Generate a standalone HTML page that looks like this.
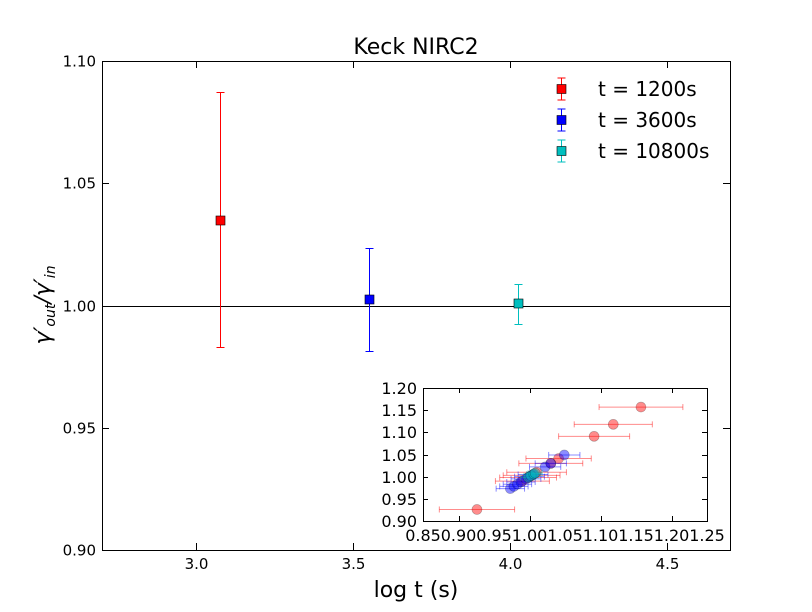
<!DOCTYPE html>
<html><head><meta charset="utf-8"><style>
body{margin:0;background:#fff;}
svg{display:block;font-family:"DejaVu Sans","Liberation Sans",sans-serif;}
</style></head><body>
<svg id="chart" width="812" height="612" viewBox="0 0 812 612">
<rect x="0" y="0" width="812" height="612" fill="#fff"/>
<text x="416" y="54" font-size="22" text-anchor="middle">Keck NIRC2</text>
<text x="416" y="597" font-size="22" text-anchor="middle">log t (s)</text>
<text transform="translate(50,305) rotate(-90)" font-size="22" text-anchor="middle" font-style="italic">γ′<tspan font-size="14" dy="5">out</tspan><tspan dy="-5">/γ′</tspan><tspan font-size="14" dy="5">in</tspan></text>
<g id="main"></g>
<g id="inset"></g>
<g id="legend"></g>
</svg>
<script>
const mainLabels = ["t = 1200s", "t = 3600s", "t = 10800s"];
const mainX = [3.076, 3.551, 4.025];
const mainY = [1.035, 1.0026, 1.0009];
const mainErrHi = [0.0523, 0.0209, 0.0078];
const mainErrLo = [0.052, 0.0212, 0.0084];
const mainColors = ["#ff0000", "#0000ff", "#00bfbf"];
const mainXTicks = [3.0, 3.5, 4.0, 4.5];
const mainYTicks = [0.90, 0.95, 1.00, 1.05, 1.10];

const insetRedX = [0.926, 1.157, 1.118, 1.091, 1.041, 1.030, 1.010, 1.003, 0.998, 0.990];
const insetRedErr = [0.053, 0.059, 0.055, 0.050, 0.046, 0.045, 0.042, 0.040, 0.040, 0.038];
const insetBlueX = [0.973, 0.978, 0.983, 0.988, 0.995, 1.000, 1.005, 1.022, 1.030, 1.049];
const insetBlueErr = [0.020, 0.020, 0.020, 0.020, 0.021, 0.021, 0.021, 0.022, 0.022, 0.022];
const insetCyanX = [0.998, 1.002, 1.006, 1.008];
const insetCyanErr = [0.010, 0.010, 0.010, 0.010];
const insetXTicks = [0.85, 0.90, 0.95, 1.00, 1.05, 1.10, 1.15, 1.20, 1.25];
const insetYTicks = [0.90, 0.95, 1.00, 1.05, 1.10, 1.15, 1.20];

const NS = "http://www.w3.org/2000/svg";
function mk(parent, tag, attrs, text) {
  const e = document.createElementNS(NS, tag);
  for (const k in attrs) e.setAttribute(k, attrs[k]);
  if (text !== undefined) e.textContent = text;
  parent.appendChild(e);
  return e;
}
const snap = v => Math.round(v) + 0.5;
const mx = v => 102 + (v - 2.7) / 2.0 * 628;
const my = v => 550 - (v - 0.90) / 0.20 * 489;
const main = document.getElementById('main');
mk(main, 'line', {x1: 102, x2: 730, y1: snap(my(1)), y2: snap(my(1)), stroke: '#000', 'stroke-width': 1});
mainXTicks.forEach(t => {
  const x = snap(mx(t));
  mk(main, 'line', {x1: x, x2: x, y1: 550, y2: 543, stroke: '#000'});
  mk(main, 'line', {x1: x, x2: x, y1: 61, y2: 68, stroke: '#000'});
  const lb = mk(main, 'text', {x: x, y: 569, 'font-size': 15, 'text-anchor': 'middle'}, t.toFixed(1));
  
  
});
mainYTicks.forEach(t => {
  const y = snap(my(t));
  mk(main, 'line', {x1: 102, x2: 109, y1: y, y2: y, stroke: '#000'});
  mk(main, 'line', {x1: 730, x2: 723, y1: y, y2: y, stroke: '#000'});
  const lb = mk(main, 'text', {x: 96, y: y + 5, 'font-size': 15, 'text-anchor': 'end'}, t.toFixed(2));
  
  
});
mainX.forEach((v, i) => {
  const x = snap(mx(v)), y = my(mainY[i]), yt = snap(my(mainY[i] + mainErrHi[i])), yb = snap(my(mainY[i] - mainErrLo[i]));
  const g = mk(main, 'g', {});
  
  
  const c = mainColors[i];
  mk(g, 'line', {x1: x, x2: x, y1: yt, y2: yb, stroke: c});
  mk(g, 'line', {x1: x - 4, x2: x + 4, y1: yt, y2: yt, stroke: c});
  mk(g, 'line', {x1: x - 4, x2: x + 4, y1: yb, y2: yb, stroke: c});
  mk(g, 'rect', {x: x - 4.5, y: Math.round(y) - 4, width: 9, height: 9, fill: c, stroke: '#000', 'stroke-width': 0.6});
});
mk(main, 'rect', {x: 102.5, y: 61.5, width: 628, height: 489, fill: 'none', stroke: '#000', 'stroke-width': 1});

const leg = document.getElementById('legend');
mainLabels.forEach((l, i) => {
  const y = 89 + i * 31, x = 561.5, c = mainColors[i];
  const g = mk(leg, 'g', {});
  
  
  mk(g, 'line', {x1: x, x2: x, y1: y - 11, y2: y + 11, stroke: c});
  mk(g, 'line', {x1: x - 4, x2: x + 4, y1: y - 11, y2: y - 11, stroke: c});
  mk(g, 'line', {x1: x - 4, x2: x + 4, y1: y + 11, y2: y + 11, stroke: c});
  mk(g, 'rect', {x: x - 4.5, y: y - 4.5, width: 9, height: 9, fill: c, stroke: '#000', 'stroke-width': 0.6});
  mk(g, 'text', {x: 598, y: y + 7, 'font-size': 20}, l);
});

const ix = v => 423 + (v - 0.85) / 0.40 * 284;
const iy = v => 521 - (v - 0.90) / 0.30 * 133;
const inset = document.getElementById('inset');
mk(inset, 'rect', {x: 423, y: 388, width: 284, height: 133, fill: '#fff'});
insetXTicks.forEach((t, i) => {
  const x = ix(t);
  if (i % 2 === 1) {
    mk(inset, 'line', {x1: snap(x), x2: snap(x), y1: 521, y2: 516, stroke: '#000'});
    mk(inset, 'line', {x1: snap(x), x2: snap(x), y1: 388, y2: 393, stroke: '#000'});
  }
  const lb = mk(inset, 'text', {x: x, y: 541, 'font-size': 16, 'text-anchor': 'middle'}, t.toFixed(2));
  
  
});
insetYTicks.forEach(t => {
  const y = snap(iy(t));
  mk(inset, 'line', {x1: 423, x2: 428, y1: y, y2: y, stroke: '#000'});
  mk(inset, 'line', {x1: 707, x2: 702, y1: y, y2: y, stroke: '#000'});
  const lb = mk(inset, 'text', {x: 417, y: y + 5.5, 'font-size': 16, 'text-anchor': 'end'}, t.toFixed(2));
  
  
});
function series(xs, errs, color, name) {
  const g = mk(inset, 'g', {});
  
  
  xs.forEach((v, i) => {
    const x = ix(v), y = iy(v), x1 = ix(v - errs[i]), x2 = ix(v + errs[i]);
    mk(g, 'line', {x1: x1, x2: x2, y1: y, y2: y, stroke: color, 'stroke-opacity': 0.45});
    mk(g, 'line', {x1: x1, x2: x1, y1: y - 3, y2: y + 3, stroke: color, 'stroke-opacity': 0.45});
    mk(g, 'line', {x1: x2, x2: x2, y1: y - 3, y2: y + 3, stroke: color, 'stroke-opacity': 0.45});
    mk(g, 'circle', {cx: x, cy: y, r: 5, fill: color, 'fill-opacity': 0.45, stroke: '#000', 'stroke-opacity': 0.3, 'stroke-width': 0.6});
  });
}
series(insetRedX, insetRedErr, '#ff0000', 'inset-series-1200s');
series(insetBlueX, insetBlueErr, '#0000ff', 'inset-series-3600s');
series(insetCyanX, insetCyanErr, '#00bfbf', 'inset-series-10800s');
mk(inset, 'rect', {x: 423.5, y: 388.5, width: 284, height: 133, fill: 'none', stroke: '#000'});
</script>
</body></html>
